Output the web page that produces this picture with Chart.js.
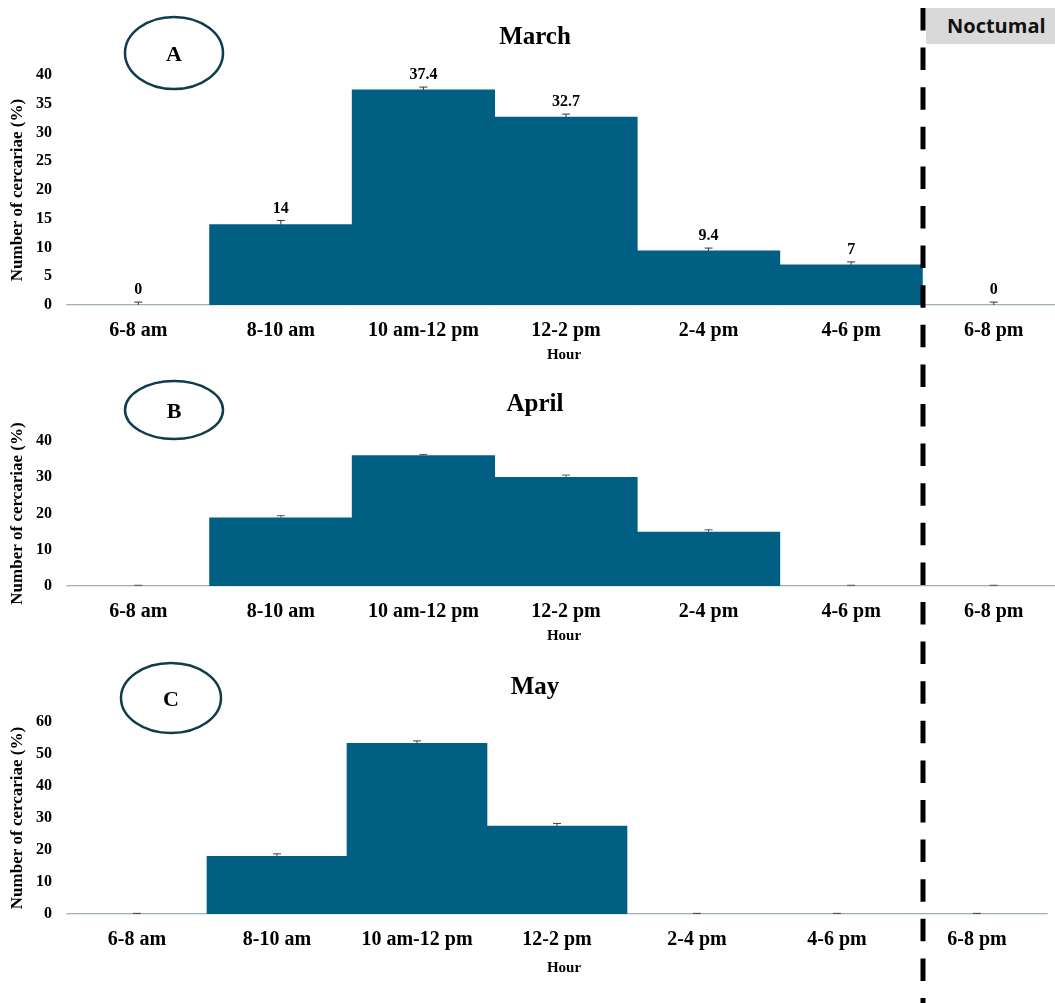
<!DOCTYPE html>
<html>
<head>
<meta charset="utf-8">
<script src="https://cdn.jsdelivr.net/npm/chart.js@4.4.1/dist/chart.umd.min.js"></script>
<style>
  html, body { margin: 0; padding: 0; background: #fff; }
  body { width: 1055px; height: 1003px; position: relative; overflow: hidden; }
  canvas { position: absolute; left: 0; }
  #overlay { position: absolute; left: 0; top: 0; width: 1055px; height: 1003px; pointer-events: none; }
  #noct { position: absolute; left: 926px; top: 8px; width: 140px; height: 36px; background: #d9d9d9;
          font-family: "Open Sans", sans-serif; font-weight: 700; font-size: 20px; line-height: 36px;
          padding-left: 21px; box-sizing: border-box; color: #111; white-space: nowrap; }
</style>
</head>
<body>
<canvas id="cA" width="1070" height="370" style="top:0px"></canvas>
<canvas id="cB" width="1070" height="280" style="top:370px"></canvas>
<canvas id="cC" width="1055" height="353" style="top:650px"></canvas>
<div id="noct">Noctumal</div>
<svg id="overlay" width="1055" height="1003" xmlns="http://www.w3.org/2000/svg">
  <line x1="923" y1="8" x2="923" y2="1003" stroke="#000" stroke-width="5" stroke-dasharray="22.5 17.1"/>
  <ellipse cx="174" cy="53" rx="49" ry="36" fill="none" stroke="#0f3d4c" stroke-width="2.5"/>
  <text x="174" y="61" text-anchor="middle" font-family="Liberation Serif, serif" font-weight="700" font-size="22">A</text>
  <ellipse cx="174" cy="410" rx="49" ry="29" fill="none" stroke="#0f3d4c" stroke-width="2.5"/>
  <text x="174" y="418" text-anchor="middle" font-family="Liberation Serif, serif" font-weight="700" font-size="22">B</text>
  <ellipse cx="171" cy="698" rx="50" ry="35" fill="none" stroke="#0f3d4c" stroke-width="2.5"/>
  <text x="171" y="706" text-anchor="middle" font-family="Liberation Serif, serif" font-weight="700" font-size="22">C</text>
</svg>
<script>
const categories = ['6-8 am', '8-10 am', '10 am-12 pm', '12-2 pm', '2-4 pm', '4-6 pm', '6-8 pm'];

const marchValues = [0, 14, 37.4, 32.7, 9.4, 7, 0];
const marchErrors = [0.5, 0.7, 0.5, 0.5, 0.5, 0.5, 0.5];
const marchLabels = ['0', '14', '37.4', '32.7', '9.4', '7', '0'];

const aprilValues = [0, 18.8, 36, 30, 14.9, 0, 0];
const aprilErrors = [0.2, 0.6, 0.3, 0.6, 0.6, 0.2, 0.2];

const mayValues = [0, 18, 53.3, 27.5, 0, 0, 0];
const mayErrors = [0.2, 0.8, 0.8, 0.8, 0.2, 0.2, 0.2];

const titles = ['March', 'April', 'May'];
const yTitle = 'Number of cercariae (%)';
const xTitle = 'Hour';

const BAR = '#005f82';
const SERIF = '"Liberation Serif", "Times New Roman", serif';

const overlayPlugin = {
  id: 'overlay',
  afterDatasetsDraw(chart, args, opts) {
    const ctx = chart.ctx;
    const meta = chart.getDatasetMeta(0);
    const ys = chart.scales.y;
    const errs = opts.errors;
    ctx.save();
    meta.data.forEach((bar, i) => {
      const v = chart.data.datasets[0].data[i];
      const top = ys.getPixelForValue(v + errs[i]);
      const base = ys.getPixelForValue(v);
      ctx.strokeStyle = opts.errColor;
      ctx.lineWidth = 1;
      ctx.beginPath();
      ctx.moveTo(bar.x, base);
      ctx.lineTo(bar.x, top);
      ctx.moveTo(bar.x - 4, top);
      ctx.lineTo(bar.x + 4, top);
      ctx.stroke();
      if (opts.labels) {
        ctx.fillStyle = '#000';
        ctx.font = '700 16px ' + SERIF;
        ctx.textAlign = 'center';
        ctx.textBaseline = 'bottom';
        ctx.fillText(opts.labels[i], bar.x, top - 4);
      }
    });
    const ca = chart.chartArea;
    ctx.fillStyle = '#000';
    ctx.font = '700 25px ' + SERIF;
    ctx.textAlign = 'center';
    ctx.textBaseline = 'middle';
    ctx.fillText(opts.title, 535, opts.titleY);
    ctx.font = '700 15px ' + SERIF;
    ctx.fillText(xTitle, 564, opts.hourY);
    ctx.translate(18, (ca.top + ca.bottom) / 2);
    ctx.rotate(-Math.PI / 2);
    ctx.font = '700 17px ' + SERIF;
    ctx.fillText(yTitle, 0, 0);
    ctx.restore();
  }
};

function makeChart(id, values, errors, yMax, step, opts) {
  return new Chart(document.getElementById(id), {
    type: 'bar',
    data: {
      labels: categories,
      datasets: [{ data: values, backgroundColor: BAR, borderWidth: 0,
                   barPercentage: 1, categoryPercentage: 1 }]
    },
    options: {
      responsive: false,
      animation: false,
      devicePixelRatio: 1,
      layout: { padding: opts.padding },
      plugins: {
        legend: { display: false },
        tooltip: { enabled: false },
        overlay: Object.assign({ errors: errors, errColor: '#333' }, opts.overlay)
      },
      scales: {
        x: {
          grid: { display: false, drawTicks: false },
          border: { display: true, color: 'rgb(205,205,205)', width: 1.5 },
          ticks: { color: '#000', font: { family: SERIF, size: 20, weight: '700' }, padding: 14, maxRotation: 0, autoSkip: false },
          afterFit(s) { s.height = 40; }
        },
        y: {
          min: 0, max: yMax,
          grid: { display: false, drawTicks: false },
          border: { display: false },
          ticks: { stepSize: step, color: '#000', font: { family: SERIF, size: 16, weight: '700' }, padding: 15 },
          afterFit(s) { s.width = 67; }
        }
      }
    },
    plugins: [overlayPlugin]
  });
}

makeChart('cA', marchValues, marchErrors, 40, 5, {
  padding: { top: 75, bottom: 25, left: 0, right: 5 },
  overlay: { title: titles[0], titleY: 38, hourY: 355, labels: marchLabels }
});
makeChart('cB', aprilValues, aprilErrors, 40, 10, {
  padding: { top: 71, bottom: 24, left: 0, right: 5 },
  overlay: { title: titles[1], titleY: 35, hourY: 266, errColor: '#555' }
});
makeChart('cC', mayValues, mayErrors, 60, 10, {
  padding: { top: 72, bottom: 49, left: 0, right: 8 },
  overlay: { title: titles[2], titleY: 38, hourY: 318, errColor: '#444' }
});
</script>
</body>
</html>
